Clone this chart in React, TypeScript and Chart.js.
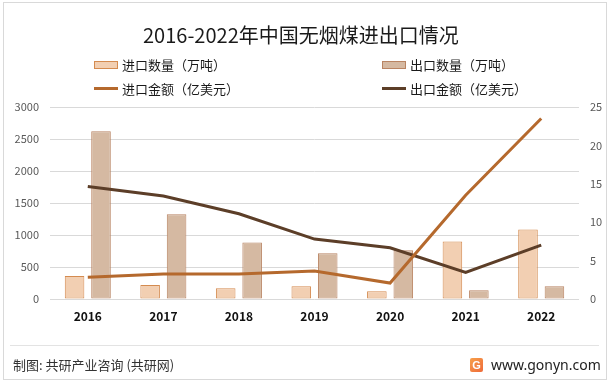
import React, { useEffect, useRef } from "react";
import { Chart, registerables } from "chart.js";

Chart.register(...registerables);

const years = ["2016", "2017", "2018", "2019", "2020", "2021", "2022"];
const importQty = [359, 218, 167, 198, 120, 900, 1087];
const exportQty = [2621, 1326, 884, 713, 760, 136, 198];
const importAmt = [2.82, 3.25, 3.25, 3.64, 2.08, 13.5, 23.5];
const exportAmt = [14.65, 13.4, 11.1, 7.8, 6.67, 3.47, 7.02];

const titleText = "2016-2022年中国无烟煤进出口情况";
const legendImportQty = "进口数量（万吨）";
const legendExportQty = "出口数量（万吨）";
const legendImportAmt = "进口金额（亿美元）";
const legendExportAmt = "出口金额（亿美元）";
const footerLeft = "制图: 共研产业咨询 (共研网)";
const footerRight = "www.gonyn.com";

const FONT = "'Noto Sans CJK SC', 'Noto Sans', sans-serif";
const C_IMP_FILL = "#F2CFB2";
const C_IMP_BORDER = "#D48B50";
const C_EXP_FILL = "#D5B9A2";
const C_EXP_BORDER = "#B98463";
const C_IMP_LINE = "#B5692D";
const C_EXP_LINE = "#5C3E28";

export default function App() {
  const ref = useRef<HTMLCanvasElement>(null);

  useEffect(() => {
    if (!ref.current) return;
    const chart = new Chart(ref.current, {
      type: "bar",
      data: {
        labels: years,
        datasets: [
          {
            type: "line",
            label: legendImportAmt,
            data: importAmt,
            yAxisID: "y1",
            borderColor: C_IMP_LINE,
            backgroundColor: C_IMP_LINE,
            borderWidth: 3,
            pointRadius: 0,
            tension: 0,
            order: 1,
          } as any,
          {
            type: "line",
            label: legendExportAmt,
            data: exportAmt,
            yAxisID: "y1",
            borderColor: C_EXP_LINE,
            backgroundColor: C_EXP_LINE,
            borderWidth: 3,
            pointRadius: 0,
            tension: 0,
            order: 1,
          } as any,
          {
            type: "bar",
            label: legendImportQty,
            data: importQty,
            yAxisID: "y",
            backgroundColor: C_IMP_FILL,
            borderColor: C_IMP_BORDER,
            borderWidth: 1,
            borderSkipped: false,
            categoryPercentage: 0.7,
            barPercentage: 0.74,
            order: 2,
          } as any,
          {
            type: "bar",
            label: legendExportQty,
            data: exportQty,
            yAxisID: "y",
            backgroundColor: C_EXP_FILL,
            borderColor: C_EXP_BORDER,
            borderWidth: 1,
            borderSkipped: false,
            categoryPercentage: 0.7,
            barPercentage: 0.74,
            order: 2,
          } as any,
        ],
      },
      options: {
        animation: false,
        responsive: false,
        devicePixelRatio: 1,
        layout: { padding: { top: 107, left: 0, right: 0, bottom: 0 } },
        plugins: {
          legend: { display: false },
          tooltip: { enabled: false },
          title: { display: false },
        },
        scales: {
          x: {
            grid: { display: false, drawTicks: false },
            border: { display: false },
            ticks: {
              color: "#111",
              font: { family: FONT, size: 12, weight: "bold" },
              padding: 10,
              maxRotation: 0,
            },
            afterFit: (s: any) => {
              s.height = 85;
            },
          },
          y: {
            position: "left",
            min: 0,
            max: 3000,
            grid: { color: "#D9D9D9", lineWidth: 1, drawTicks: false },
            border: { display: false },
            ticks: {
              stepSize: 500,
              color: "#595959",
              font: { family: FONT, size: 11 },
              padding: 11,
              callback: (v: any) => String(v),
            },
            afterFit: (s: any) => {
              s.width = 50;
            },
          },
          y1: {
            position: "right",
            min: 0,
            max: 25,
            grid: { display: false, drawTicks: false },
            border: { display: false },
            ticks: {
              stepSize: 5,
              color: "#595959",
              font: { family: FONT, size: 11 },
              padding: 11,
              callback: (v: any) => String(v),
            },
            afterFit: (s: any) => {
              s.width = 33;
            },
          },
        },
      } as any,
    });
    return () => chart.destroy();
  }, []);

  const legendText: React.CSSProperties = {
    position: "absolute",
    fontFamily: FONT,
    fontSize: 13,
    lineHeight: "16px",
    color: "#1a1a1a",
    whiteSpace: "nowrap",
  };

  return (
    <div
      style={{
        position: "fixed",
        left: 0,
        top: 0,
        width: 612,
        height: 384,
        background: "#fff",
        overflow: "hidden",
      }}
    >
      <div
        style={{
          position: "absolute",
          left: 3,
          top: 2,
          width: 604,
          height: 378,
          border: "1px solid #D9D9D9",
          boxSizing: "border-box",
        }}
      />
      <canvas
        ref={ref}
        width={612}
        height={384}
        style={{ position: "absolute", left: 0, top: 0, width: 612, height: 384 }}
      />
      <div
        style={{
          position: "absolute",
          left: 143,
          top: 24,
          fontFamily: FONT,
          fontSize: 20,
          lineHeight: "22px",
          color: "#1a1a1a",
          whiteSpace: "nowrap",
        }}
      >
        {titleText}
      </div>

      {/* legend row 1 */}
      <div
        style={{
          position: "absolute",
          left: 94,
          top: 61,
          width: 24,
          height: 8,
          background: C_IMP_FILL,
          border: `1px solid ${C_IMP_BORDER}`,
          boxSizing: "border-box",
        }}
      />
      <div style={{ ...legendText, left: 122, top: 57 }}>{legendImportQty}</div>
      <div
        style={{
          position: "absolute",
          left: 382,
          top: 61,
          width: 24,
          height: 8,
          background: C_EXP_FILL,
          border: `1px solid ${C_EXP_BORDER}`,
          boxSizing: "border-box",
        }}
      />
      <div style={{ ...legendText, left: 410, top: 57 }}>{legendExportQty}</div>

      {/* legend row 2 */}
      <div
        style={{
          position: "absolute",
          left: 94,
          top: 87,
          width: 24,
          height: 3,
          background: C_IMP_LINE,
        }}
      />
      <div style={{ ...legendText, left: 122, top: 81 }}>{legendImportAmt}</div>
      <div
        style={{
          position: "absolute",
          left: 382,
          top: 87,
          width: 24,
          height: 3,
          background: C_EXP_LINE,
        }}
      />
      <div style={{ ...legendText, left: 410, top: 81 }}>{legendExportAmt}</div>

      {/* footer */}
      <div
        style={{
          position: "absolute",
          left: 10,
          top: 345,
          width: 589,
          height: 1,
          background: "#E3E3E3",
        }}
      />
      <div
        style={{
          position: "absolute",
          left: 13,
          top: 357,
          fontFamily: FONT,
          fontSize: 13,
          lineHeight: "16px",
          color: "#333",
          whiteSpace: "nowrap",
        }}
      >
        {footerLeft}
      </div>
      <div
        style={{
          position: "absolute",
          left: 470,
          top: 358,
          width: 13,
          height: 14,
          borderRadius: 2,
          background: "linear-gradient(135deg, #F7A04A, #EE6A3A)",
          color: "#fff",
          fontFamily: "'Liberation Sans', sans-serif",
          fontWeight: "bold",
          fontSize: 11,
          lineHeight: "14px",
          textAlign: "center",
        }}
      >
        G
      </div>
      <div
        style={{
          position: "absolute",
          left: 491,
          top: 356,
          fontFamily: "'Noto Sans', sans-serif",
          fontSize: 14,
          lineHeight: "18px",
          color: "#222",
          whiteSpace: "nowrap",
        }}
      >
        {footerRight}
      </div>
    </div>
  );
}
